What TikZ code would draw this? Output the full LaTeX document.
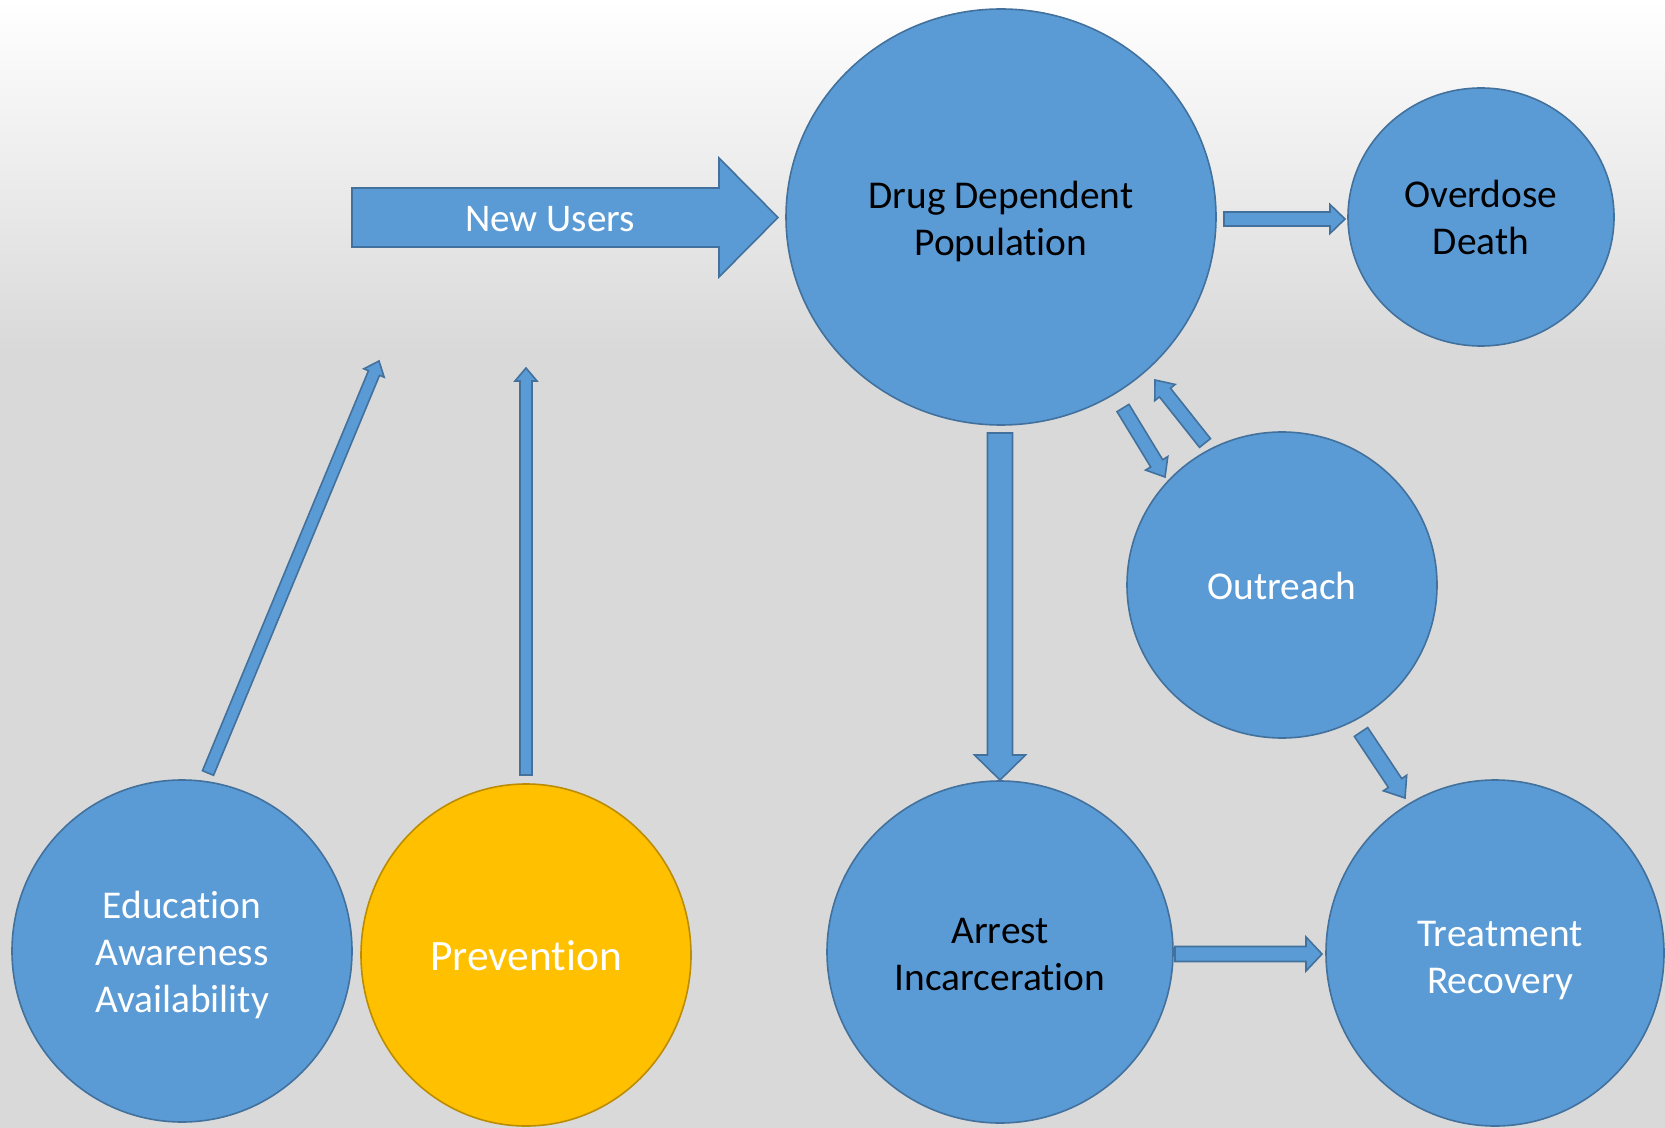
\documentclass[tikz,border=0pt]{standalone}
\usepackage{fontspec}
\setmainfont{Carlito}[Ligatures=NoCommon]
\usetikzlibrary{shapes.geometric,calc}
\definecolor{cfill}{HTML}{5B9BD5}
\definecolor{cedge}{HTML}{41719C}
\definecolor{yfill}{HTML}{FFC000}
\definecolor{yedge}{HTML}{BC8C00}
\definecolor{bggray}{HTML}{D9D9D9}
\tikzset{
  bubble/.style={ellipse, draw=cedge, fill=cfill, line width=0.8pt, inner sep=0pt},
  lbl/.style={align=center, inner sep=0pt, font=\fontsize{19.7}{23.5}\selectfont},
  arrowbox/.style={draw=cedge, fill=cfill, line width=0.8pt, line join=miter},
}
\newcommand\blockarrow[5]{%
  \coordinate (bah) at ($(#2)!#5!(#1)$);
  \filldraw[arrowbox] ($(#1)!#3!90:(#2)$) -- ($(bah)!#3!90:(#2)$) -- ($(bah)!#4!90:(#2)$) -- (#2)
     -- ($(bah)!#4!-90:(#2)$) -- ($(bah)!#3!-90:(#2)$) -- ($(#1)!#3!-90:(#2)$) -- cycle;}
\begin{document}
\begin{tikzpicture}[x=0.5pt,y=-0.5pt]
\useasboundingbox (0,0) rectangle (1665,1128);
\fill[bggray] (0,350) rectangle (1665,1128);
\shade[top color=white, bottom color=bggray] (0,0) rectangle (1665,351);

% circles
\node[bubble, minimum width=215pt, minimum height=208pt] (ddp) at (1001,217) {};
\node[bubble, minimum width=133pt, minimum height=129pt] (od) at (1481,217) {};
\node[bubble, minimum width=155pt, minimum height=153pt] (out) at (1282,585) {};
\node[bubble, minimum width=173pt, minimum height=171pt] (arr) at (1000,952) {};
\node[bubble, minimum width=169pt, minimum height=173pt] (tr) at (1495,953) {};
\node[bubble, minimum width=170pt, minimum height=171pt] (edu) at (182,951) {};
\node[bubble, draw=yedge, fill=yfill, minimum width=165pt, minimum height=171pt] (prev) at (526,955) {};

% labels
\node[lbl] (ddpT) at ($(ddp)+(0,4)$) {Drug Dependent\\Population};
\node[lbl] (odT) at ($(od)+(0,0)$) {Overdose\\Death};
\node[lbl, text=white] (outT) at ($(out)+(0,1)$) {Outreach};
\node[lbl] (arrT) at ($(arr)+(0,2)$) {Arrest\\Incarceration};
\node[lbl, text=white] (trT) at ($(tr)+(5,8)$) {Treatment\\Recovery};
\node[lbl, text=white] (eduT) at ($(edu)+(0,4)$) {Education\\Awareness\\Availability};
\node[lbl, text=white, font=\fontsize{21.7}{26}\selectfont] (prevT) at ($(prev)+(0,1)$) {Prevention};

% arrow end points
\coordinate (nuA) at (352,217.5);  \coordinate (nuB) at (778,217.5);
\coordinate (odA) at (1224,219);   \coordinate (odB) at (1345,219);
\coordinate (arA) at (1000,433);   \coordinate (arB) at (1000,780);
\coordinate (trA) at (1175,954);   \coordinate (trB) at (1322,954);
\coordinate (doA) at (1123,408);   \coordinate (doB) at (1165,477);
\coordinate (udA) at (1205,443);   \coordinate (udB) at (1155,380);
\coordinate (otA) at (1361,732);   \coordinate (otB) at (1405,798);
\coordinate (edA) at (208,773);    \coordinate (edB) at (379,361);
\coordinate (pvA) at (526,775);    \coordinate (pvB) at (526,368);

\blockarrow{nuA}{nuB}{14.75pt}{29.75pt}{29.5pt}
\node[lbl, text=white, font=\fontsize{19.6}{23.5}\selectfont] (nu) at (550,219) {New Users};
\blockarrow{odA}{odB}{3.5pt}{7.25pt}{7.5pt}
\blockarrow{arA}{arB}{6.25pt}{12.75pt}{12.5pt}
\blockarrow{trA}{trB}{3.75pt}{8.5pt}{8pt}
\blockarrow{doA}{doB}{3.5pt}{6.5pt}{8pt}
\blockarrow{udA}{udB}{3.5pt}{6.5pt}{8pt}
\blockarrow{otA}{otB}{4pt}{7pt}{9pt}
\blockarrow{edA}{edB}{3pt}{5.5pt}{6.5pt}
\blockarrow{pvA}{pvB}{3pt}{5.5pt}{6.5pt}
\end{tikzpicture}
\end{document}
